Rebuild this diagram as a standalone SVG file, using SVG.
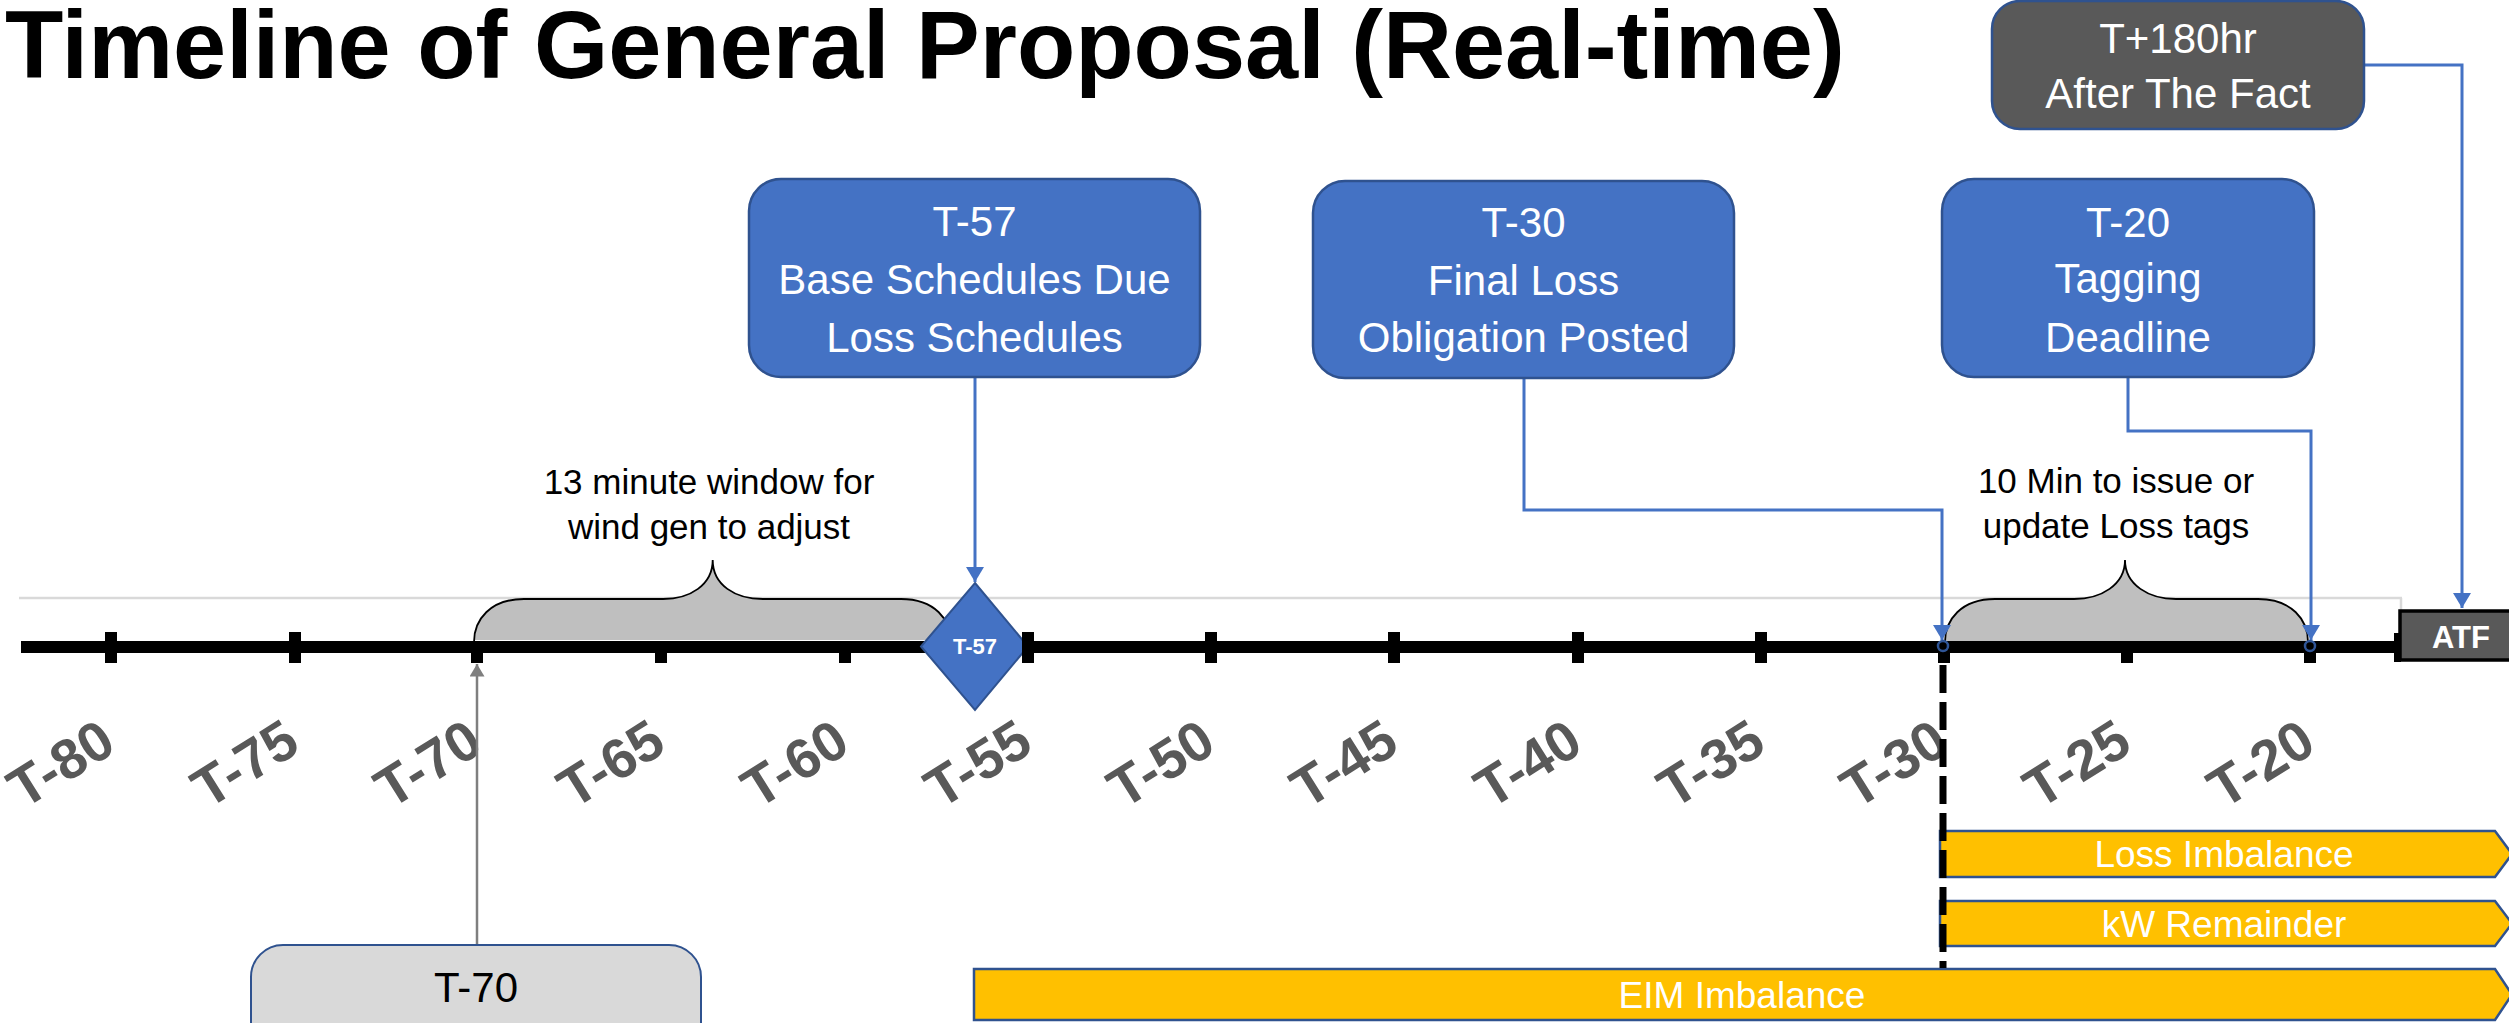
<svg xmlns="http://www.w3.org/2000/svg" width="2509" height="1023" viewBox="0 0 2509 1023">
<style>
.box{fill:#4472C4;stroke:#2F528F;stroke-width:2.5}
.dark{fill:#595959;stroke:#2F528F;stroke-width:2.5}
.wt{fill:#FFFFFF;font-family:"Liberation Sans",Arial,sans-serif;font-size:42px;text-anchor:middle}
.bt{fill:#000000;font-family:"Liberation Sans",Arial,sans-serif;font-size:35px;text-anchor:middle}
.tl{fill:#595959;font-family:"Liberation Sans",Arial,sans-serif;font-size:56px;font-weight:bold;text-anchor:middle}
.bar{fill:#FFC000;stroke:#2F528F;stroke-width:2.5}
.bart{fill:#FFFFFF;font-family:"Liberation Sans",Arial,sans-serif;font-size:37px;text-anchor:middle}
.con{fill:none;stroke:#4472C4;stroke-width:3}
.tick{fill:#000000}
.brace{fill:#BFBFBF;stroke:none}
.braceline{fill:none;stroke:#000000;stroke-width:1.8}
.grid{stroke:#BDBDBD;stroke-width:3.5;filter:url(#soft)}
</style>
<defs>
<filter id="soft" x="-50%" y="-10%" width="200%" height="120%"><feGaussianBlur stdDeviation="1.2"/></filter>
<marker id="ab" markerWidth="6" markerHeight="6" refX="5" refY="3" orient="auto" markerUnits="strokeWidth"><path d="M0,0 L5,3 L0,6 Z" fill="#4472C4"/></marker>
<marker id="ag" markerWidth="6" markerHeight="6" refX="5" refY="3" orient="auto" markerUnits="strokeWidth"><path d="M0,0 L5,3 L0,6 Z" fill="#7F7F7F"/></marker>
</defs>
<rect width="2509" height="1023" fill="#FFFFFF"/>
<text x="5" y="78" style="font-family:'Liberation Sans',Arial,sans-serif;font-weight:bold;font-size:95.5px" fill="#000000">Timeline of General Proposal (Real-time)</text>

<g id="table-bg">
<line x1="19" y1="598" x2="2402" y2="598" stroke="#D9D9D9" stroke-width="2.5"/>
<line class="grid" x1="20" y1="598" x2="20" y2="662"/>
<line class="grid" x1="203" y1="600" x2="203" y2="662"/>
<line class="grid" x1="386" y1="600" x2="386" y2="662"/>
<line class="grid" x1="570" y1="600" x2="570" y2="662"/>
<line class="grid" x1="753" y1="600" x2="753" y2="662"/>
<line class="grid" x1="936" y1="600" x2="936" y2="662"/>
<line class="grid" x1="1119" y1="600" x2="1119" y2="662"/>
<line class="grid" x1="1303" y1="600" x2="1303" y2="662"/>
<line class="grid" x1="1486" y1="600" x2="1486" y2="662"/>
<line class="grid" x1="1669" y1="600" x2="1669" y2="662"/>
<line class="grid" x1="1853" y1="600" x2="1853" y2="662"/>
<line class="grid" x1="2036" y1="600" x2="2036" y2="662"/>
<line class="grid" x1="2219" y1="600" x2="2219" y2="662"/>
<line x1="2401" y1="598" x2="2401" y2="612" stroke="#D9D9D9" stroke-width="2.5"/>
</g>

<g id="brace-wind">
<path class="brace" d="M474,640 L474,646 C474,620 490,599 524,599 L663,599 C690,599 712.7,585 712.7,560 C712.7,585 735,599 763,599 L901,599 C935,599 951,620 951,646 L951,640 Z"/>
<path class="braceline" d="M474,642 C474,620 490,599 524,599 L663,599 C690,599 712.7,585 712.7,560 C712.7,585 735,599 763,599 L901,599 C935,599 951,620 951,642"/>
</g>
<g id="brace-tag">
<path class="brace" d="M1945,646 C1945,620 1961,599 1995,599 L2074,599 C2101,599 2125,585 2125,560 C2125,585 2149,599 2176,599 L2258,599 C2292,599 2308,620 2308,646 Z"/>
<path class="braceline" d="M1945,642 C1945,620 1961,599 1995,599 L2074,599 C2101,599 2125,585 2125,560 C2125,585 2149,599 2176,599 L2258,599 C2292,599 2308,620 2308,642"/>
</g>

<g id="axis">
<rect x="21" y="641" width="2379" height="12" fill="#000000"/>
</g>

<g id="diamond-t57">
<polygon points="975,583 1028,646.5 975,710 921,646.5" fill="#4472C4" stroke="#2F528F" stroke-width="2"/>
<text x="975" y="654" style="font-family:'Liberation Sans',Arial,sans-serif;font-weight:bold;font-size:22px" fill="#FFFFFF" text-anchor="middle">T-57</text>
</g>

<g id="ticks">
<rect class="tick" x="105" y="632" width="12" height="31"/>
<rect class="tick" x="289" y="632" width="12" height="31"/>
<rect class="tick" x="471" y="641" width="12" height="22"/>
<rect class="tick" x="655" y="641" width="12" height="22"/>
<rect class="tick" x="839" y="641" width="12" height="22"/>
<rect class="tick" x="1022" y="632" width="12" height="31"/>
<rect class="tick" x="1205" y="632" width="12" height="31"/>
<rect class="tick" x="1388" y="632" width="12" height="31"/>
<rect class="tick" x="1572" y="632" width="12" height="31"/>
<rect class="tick" x="1755" y="632" width="12" height="31"/>
<rect class="tick" x="1938" y="641" width="12" height="22"/>
<rect class="tick" x="2121" y="641" width="12" height="22"/>
<rect class="tick" x="2304" y="641" width="12" height="22"/>
<rect class="tick" x="2394" y="633" width="7" height="29"/>
</g>

<g id="tick-labels">
<text class="tl" x="71" y="780" transform="rotate(-32 71 780)">T-80</text>
<text class="tl" x="255" y="780" transform="rotate(-32 255 780)">T-75</text>
<text class="tl" x="438" y="780" transform="rotate(-32 438 780)">T-70</text>
<text class="tl" x="621" y="780" transform="rotate(-32 621 780)">T-65</text>
<text class="tl" x="805" y="780" transform="rotate(-32 805 780)">T-60</text>
<text class="tl" x="988" y="780" transform="rotate(-32 988 780)">T-55</text>
<text class="tl" x="1171" y="780" transform="rotate(-32 1171 780)">T-50</text>
<text class="tl" x="1354" y="780" transform="rotate(-32 1354 780)">T-45</text>
<text class="tl" x="1538" y="780" transform="rotate(-32 1538 780)">T-40</text>
<text class="tl" x="1721" y="780" transform="rotate(-32 1721 780)">T-35</text>
<text class="tl" x="1904" y="780" transform="rotate(-32 1904 780)">T-30</text>
<text class="tl" x="2087" y="780" transform="rotate(-32 2087 780)">T-25</text>
<text class="tl" x="2271" y="780" transform="rotate(-32 2271 780)">T-20</text>
</g>

<g id="atf">
<rect x="2400" y="611" width="115" height="49" fill="#595959" stroke="#000000" stroke-width="3.5"/>
<text x="2461" y="648" style="font-family:'Liberation Sans',Arial,sans-serif;font-weight:bold;font-size:31px" fill="#FFFFFF" text-anchor="middle">ATF</text>
</g>

<g id="label-wind">
<text class="bt" x="709" y="494">13 minute window for</text>
<text class="bt" x="709" y="539">wind gen to adjust</text>
</g>
<g id="label-tag">
<text class="bt" x="2116" y="493">10 Min to issue or</text>
<text class="bt" x="2116" y="538">update Loss tags</text>
</g>

<g id="bars">
<g id="bar-loss">
<polygon class="bar" points="1940,831 2495,831 2512,854 2495,877 1940,877"/>
<text class="bart" x="2224" y="867">Loss Imbalance</text>
</g>
<g id="bar-kw">
<polygon class="bar" points="1940,901 2495,901 2512,923.5 2495,946 1940,946"/>
<text class="bart" x="2224" y="937">kW Remainder</text>
</g>
<g id="bar-eim">
<polygon class="bar" points="974,969 2495,969 2512,994.5 2495,1020 974,1020"/>
<text class="bart" x="1742" y="1008">EIM Imbalance</text>
</g>
</g>

<g id="connectors">
<line x1="1943" y1="665" x2="1943" y2="968" stroke="#000000" stroke-width="7" stroke-dasharray="28 9"/>
<path class="con" d="M975,377 L975,582" marker-end="url(#ab)"/>
<path class="con" d="M1524,378 L1524,510 L1942,510 L1942,640" marker-end="url(#ab)"/>
<path class="con" d="M2128,377 L2128,431 L2311,431 L2311,640" marker-end="url(#ab)"/>
<path class="con" d="M2364,65 L2462,65 L2462,608" marker-end="url(#ab)"/>
<path d="M477,945 L477,664" fill="none" stroke="#7F7F7F" stroke-width="2.5" marker-end="url(#ag)"/>
<circle cx="1943" cy="646" r="5" fill="none" stroke="#2F5597" stroke-width="2.5"/>
<circle cx="2310" cy="646" r="5" fill="none" stroke="#2F5597" stroke-width="2.5"/>
</g>

<g id="node-t57">
<rect class="box" x="749" y="179" width="451" height="198" rx="32"/>
<text class="wt" x="974.5" y="236">T-57</text>
<text class="wt" x="974.5" y="294">Base Schedules Due</text>
<text class="wt" x="974.5" y="352">Loss Schedules</text>
</g>
<g id="node-t30">
<rect class="box" x="1313" y="181" width="421" height="197" rx="32"/>
<text class="wt" x="1523.5" y="237">T-30</text>
<text class="wt" x="1523.5" y="295">Final Loss</text>
<text class="wt" x="1523.5" y="352">Obligation Posted</text>
</g>
<g id="node-t20">
<rect class="box" x="1942" y="179" width="372" height="198" rx="32"/>
<text class="wt" x="2128" y="237">T-20</text>
<text class="wt" x="2128" y="293">Tagging</text>
<text class="wt" x="2128" y="352">Deadline</text>
</g>
<g id="node-t180">
<rect class="dark" x="1992" y="1" width="372" height="128" rx="28"/>
<text class="wt" x="2178" y="53">T+180hr</text>
<text class="wt" x="2178" y="108">After The Fact</text>
</g>
<g id="node-t70">
<rect x="251" y="945" width="450" height="110" rx="32" fill="#D9D9D9" stroke="#2F528F" stroke-width="2"/>
<text x="476" y="1002" style="font-family:'Liberation Sans',Arial,sans-serif;font-size:42px" fill="#000000" text-anchor="middle">T-70</text>
</g>
</svg>
